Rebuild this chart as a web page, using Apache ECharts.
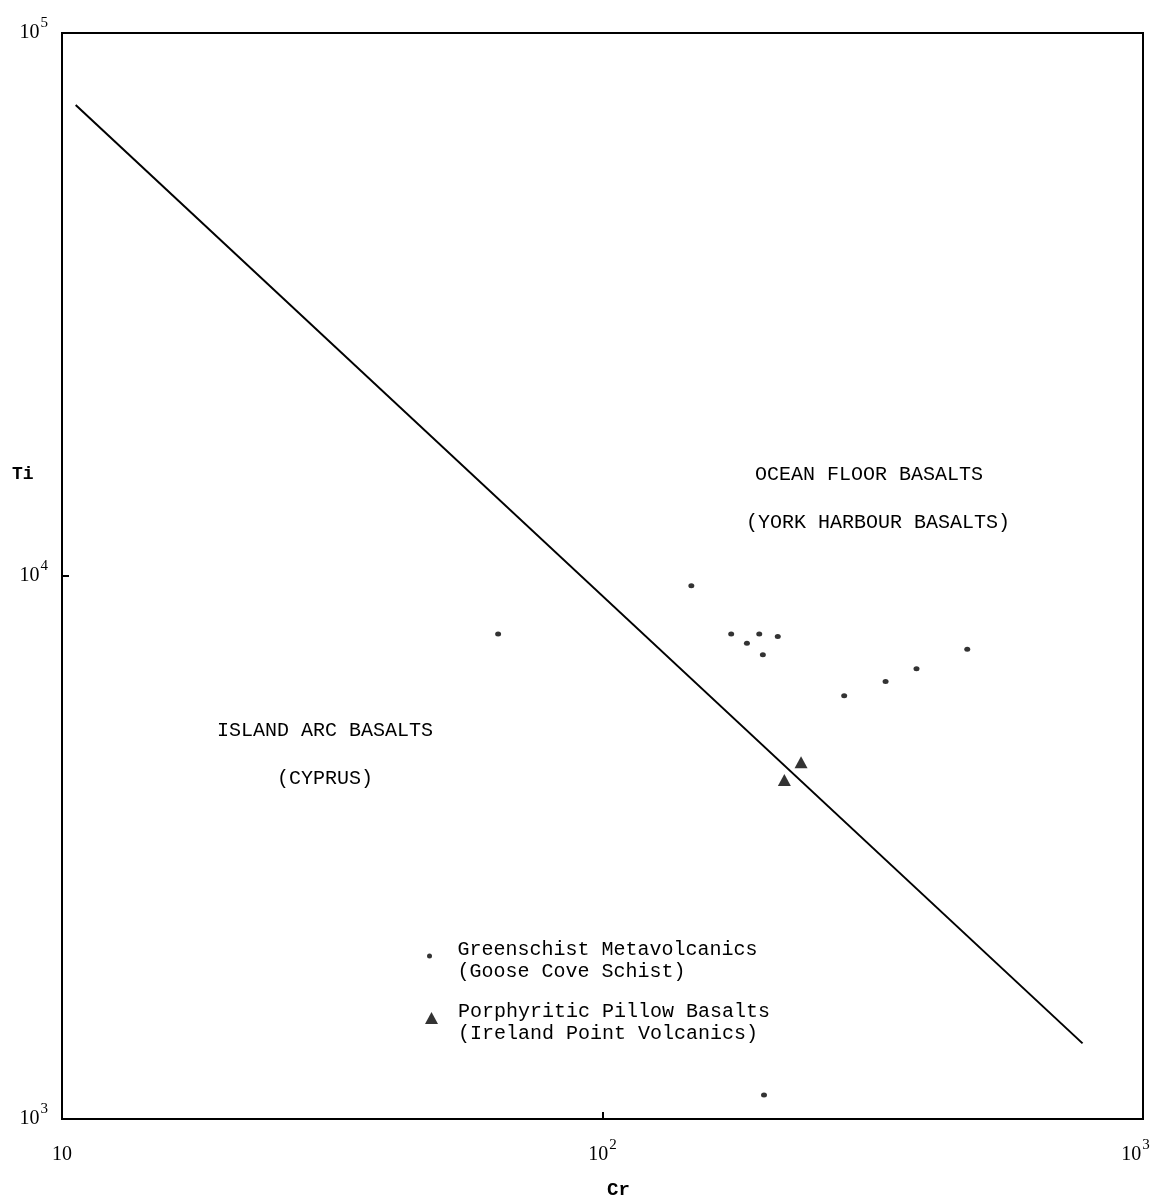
<!DOCTYPE html>
<html>
<head>
<meta charset="utf-8">
<style>html,body{margin:0;padding:0;background:#fff;overflow:hidden;}#c{width:1154px;height:1198px;}</style>
<script src="https://cdn.jsdelivr.net/npm/echarts@6/dist/echarts.min.js"></script>
</head>
<body>
<div id="c"></div>
<script>
// Greenschist Metavolcanics (Goose Cove Schist)
var greenCr = [64.1, 146, 173, 195, 211, 185, 198, 473, 381, 334, 280, 199];
var greenTi = [7820, 9590, 7820, 7820, 7740, 7520, 7160, 7330, 6750, 6390, 6020, 1107];
// Porphyritic Pillow Basalts (Ireland Point Volcanics)
var pillowCr = [233, 217];
var pillowTi = [4540, 4210];
// Discriminant line
var lineCr = [10.6, 773];
var lineTi = [73700, 1378];
// Tick labels
var xTickLabels = {10: ['10', ''], 100: ['10', '2'], 1000: ['10', '3']};
var yTickLabels = {1000: ['10', '3'], 10000: ['10', '4'], 100000: ['10', '5']};

function zip(a, b) { return a.map(function (v, i) { return [v, b[i]]; }); }

var serif = 'Liberation Serif';
var mono = 'Liberation Mono';
var richTick = {
  b: {fontFamily: serif, fontSize: 20, color: '#000', lineHeight: 20, verticalAlign: 'middle'},
  s: {fontFamily: serif, fontSize: 15, color: '#000', lineHeight: 15, verticalAlign: 'middle', padding: [0, 0, 20, 1]},
  sr: {fontFamily: serif, fontSize: 15, color: '#000', lineHeight: 15, verticalAlign: 'middle', padding: [0, 15, 20, 1]}
};
function tickFmt(map, isX) {
  return function (v) {
    var key = Math.round(v);
    var t = map[key];
    if (!t) return '';
    if (!t[1]) return '{s| }{b|' + t[0] + '}{s| }';
    var st = (isX && key === 1000) ? 'sr' : 's';
    return '{b|' + t[0] + '}{' + st + '|' + t[1] + '}';
  };
}
var richLegend = {
  e: {fontFamily: mono, fontSize: 10, lineHeight: 10},
  a: {fontFamily: mono, fontSize: 20, lineHeight: 22, color: '#000'}
};

var chart = echarts.init(document.getElementById('c'), null, {renderer: 'canvas', width: 1154, height: 1198});
chart.setOption({
  backgroundColor: '#fff',
  animation: false,
  grid: {left: 62, top: 33, right: 11, bottom: 79, outerBoundsMode: 'none', containLabel: false,
    show: true, borderColor: '#000', borderWidth: 2, backgroundColor: 'transparent'},
  xAxis: {
    type: 'log', logBase: 10, min: 10, max: 1000,
    axisLine: {show: true, lineStyle: {color: '#000', width: 2}},
    axisTick: {show: true, inside: true, length: 7, lineStyle: {color: '#000', width: 2}},
    splitLine: {show: false},
    axisLabel: {margin: 26, formatter: tickFmt(xTickLabels, true), rich: richTick},
    name: 'Cr', nameLocation: 'middle', nameGap: 62,
    nameTextStyle: {fontFamily: mono, fontSize: 19, color: '#000', fontWeight: 'bold', padding: [0, 0, 0, 32]}
  },
  yAxis: {
    type: 'log', logBase: 10, min: 1000, max: 100000,
    axisLine: {show: true, lineStyle: {color: '#000', width: 2}},
    axisTick: {show: true, inside: true, length: 7, lineStyle: {color: '#000', width: 2}},
    splitLine: {show: false},
    axisLabel: {margin: 14, formatter: tickFmt(yTickLabels, false), rich: richTick}
  },
  legend: [
    {
      data: ['Greenschist Metavolcanics'],
      left: 422, top: 924, orient: 'vertical',
      itemWidth: 6, itemHeight: 5,
      formatter: function () { return '{e| }\n{a|Greenschist Metavolcanics}\n{a|(Goose Cove Schist)}'; },
      textStyle: {color: '#000', padding: [0, 0, 0, 20], rich: richLegend}
    },
    {
      data: ['Porphyritic Pillow Basalts'],
      left: 420, top: 986, orient: 'vertical',
      itemWidth: 13, itemHeight: 12,
      formatter: function () { return '{e| }\n{a|Porphyritic Pillow Basalts}\n{a|(Ireland Point Volcanics)}'; },
      textStyle: {color: '#000', padding: [0, 0, 0, 15], rich: richLegend}
    }
  ],
  graphic: [
    {type: 'text', left: 755, top: 465, style: {text: 'OCEAN FLOOR BASALTS', font: '20px "Liberation Mono"', fill: '#000'}},
    {type: 'text', left: 746, top: 513, style: {text: '(YORK HARBOUR BASALTS)', font: '20px "Liberation Mono"', fill: '#000'}},
    {type: 'text', left: 217, top: 721, style: {text: 'ISLAND ARC BASALTS', font: '20px "Liberation Mono"', fill: '#000'}},
    {type: 'text', left: 277, top: 769, style: {text: '(CYPRUS)', font: '20px "Liberation Mono"', fill: '#000'}},
    {type: 'text', left: 12, top: 465, style: {text: 'Ti', font: 'bold 18px "Liberation Mono"', fill: '#000'}}
  ],
  series: [
    {
      name: 'Discriminant', type: 'line', data: zip(lineCr, lineTi),
      symbol: 'none', lineStyle: {color: '#000', width: 2}, silent: true
    },
    {
      name: 'Greenschist Metavolcanics', type: 'scatter', data: zip(greenCr, greenTi),
      symbol: 'circle', symbolSize: [6, 5], itemStyle: {color: '#000'}
    },
    {
      name: 'Porphyritic Pillow Basalts', type: 'scatter', data: zip(pillowCr, pillowTi),
      symbol: 'triangle', symbolSize: [13, 12], itemStyle: {color: '#000'}
    }
  ]
});
</script>
</body>
</html>
